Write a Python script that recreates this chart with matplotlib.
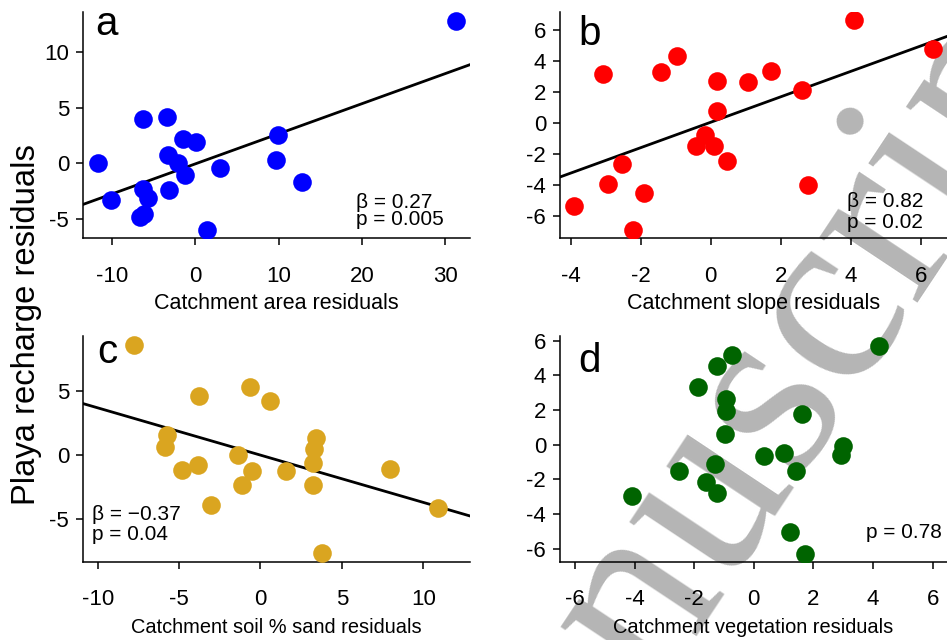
import matplotlib
matplotlib.use("Agg")
import matplotlib.pyplot as plt

plt.rcParams['font.family'] = ['Liberation Sans', 'DejaVu Sans']
plt.rcParams['axes.unicode_minus'] = False

# ---- data ----
a_x = [31.3, -11.75, -10.15, -6.24, -3.36, -1.51, 0.08, -3.24, -2.11, -1.24,
       3.0, 9.89, 9.69, 12.77, -6.24, -5.64, -3.16, -6.64, -6.16, 1.37]
a_y = [12.75, 0.03, -3.25, 4.0, 4.15, 2.2, 1.88, 0.8, 0.03, -1.07,
       -0.39, 2.57, 0.33, -1.67, -2.27, -3.1, -2.42, -4.81, -4.5, -5.94]

b_x = [4.10, 6.36, -3.07, -1.43, -0.97, 0.17, 1.06, 1.71, 2.61, 0.19,
       -0.16, -0.42, 0.08, 0.46, -2.54, -2.94, -1.92, -3.90, -2.23, 2.77]
b_y = [6.62, 4.77, 3.18, 3.31, 4.34, 2.73, 2.62, 3.35, 2.13, 0.77,
       -0.75, -1.46, -1.46, -2.43, -2.67, -3.92, -4.52, -5.38, -6.88, -4.0]

c_x = [-7.78, -3.79, -0.66, 0.57, -5.77, -5.88, -4.85, -3.83, -1.38, -0.55,
       -1.13, -3.05, 1.55, 3.40, 3.29, 3.23, 3.23, 7.94, 10.91, 3.81]
c_y = [8.54, 4.62, 5.32, 4.21, 1.56, 0.62, -1.17, -0.78, 0.0, -1.30,
       -2.39, -3.92, -1.30, 1.27, 0.44, -0.65, -2.39, -1.09, -4.15, -7.73]

d_x = [4.19, -0.74, -1.25, -1.87, -0.94, -0.92, -0.96, 1.61, 0.35, 1.01,
       1.43, 2.98, 2.91, -1.30, -2.51, -1.61, -1.25, -4.07, 1.21, 1.71]
d_y = [5.71, 5.17, 4.52, 3.31, 2.65, 1.96, 0.62, 1.77, -0.63, -0.48,
       -1.5, -0.06, -0.60, -1.12, -1.5, -2.17, -2.81, -2.98, -5.06, -6.31]

panel_letters = ['a', 'b', 'c', 'd']
x_labels = ['Catchment area residuals', 'Catchment slope residuals',
            'Catchment soil % sand residuals', 'Catchment vegetation residuals']
colors = ['#0000ff', '#ff0000', '#daa520', '#006400']
slopes = [0.27, 0.82, -0.37, None]
intercepts = [-0.04, 0.05, -0.04, None]
beta_text = ['β = 0.27', 'β = 0.82', 'β = −0.37', None]
p_text = ['p = 0.005', 'p = 0.02', 'p = 0.04', 'p = 0.78']

xticks = [[-10, 0, 10, 20, 30], [-4, -2, 0, 2, 4, 6], [-10, -5, 0, 5, 10], [-6, -4, -2, 0, 2, 4, 6]]
yticks = [[-5, 0, 5, 10], [-6, -4, -2, 0, 2, 4, 6], [-5, 0, 5], [-6, -4, -2, 0, 2, 4, 6]]
xlims = [(-13.5, 33), (-4.31, 6.75), (-10.9, 12.87), (-6.5, 6.48)]
ylims = [(-6.7, 13.6), (-7.42, 7.16), (-8.38, 9.28), (-6.75, 6.27)]

xs = [a_x, b_x, c_x, d_x]
ys = [a_y, b_y, c_y, d_y]

# ---- layout ----
W, H = 947, 640
fig = plt.figure(figsize=(W / 100, H / 100), dpi=100)

rects = [
    (83 / W, (H - 238) / H, 387 / W, 226 / H),
    (560 / W, (H - 238) / H, 387 / W, 226 / H),
    (83 / W, (H - 561.7) / H, 387 / W, 225.7 / H),
    (560 / W, (H - 561.7) / H, 387 / W, 225.7 / H),
]
letter_pos = [(0.031, 0.898), (0.0465, 0.854), (0.036, 0.880), (0.0465, 0.840)]
beta_pos = [(0.705, 0.133), (0.742, 0.138), (0.023, 0.185), None]
p_pos = [(0.705, 0.0575), (0.742, 0.044), (0.023, 0.096), (0.791, 0.104)]
xlabel_size = [15.5, 15.5, 14.4, 14.4]
xlabel_y = [-0.288, -0.288, -0.293, -0.293]

# watermark (behind the panels)
fig.text(787 / W, 1 - 489 / H, 'Manuscript', fontsize=184, family='Liberation Serif',
         color='#b5b5b5', rotation=56.4, rotation_mode='anchor',
         ha='center', va='baseline', zorder=-5)

for i in range(4):
    ax = fig.add_axes(rects[i])
    ax.set_facecolor('none')
    ax.scatter(xs[i], ys[i], s=180, color=colors[i], linewidths=0, zorder=3)
    if slopes[i] is not None:
        ax.axline((0, intercepts[i]), slope=slopes[i], color='black', lw=2.0, zorder=2)
    ax.set_xlim(*xlims[i])
    ax.set_ylim(*ylims[i])
    ax.set_xticks(xticks[i])
    ax.set_yticks(yticks[i])
    for s in ['top', 'right']:
        ax.spines[s].set_visible(False)
    for s in ['left', 'bottom']:
        ax.spines[s].set_linewidth(1.1)
    ax.tick_params(axis='both', direction='out', length=5, width=1.1, labelsize=16)
    ax.tick_params(axis='x', pad=15)
    ax.tick_params(axis='y', pad=5)
    ax.set_xlabel(x_labels[i], fontsize=xlabel_size[i])
    ax.xaxis.set_label_coords(0.5, xlabel_y[i])
    ax.xaxis.label.set_va('center')
    ax.text(letter_pos[i][0], letter_pos[i][1], panel_letters[i], transform=ax.transAxes,
            fontsize=29, ha='left', va='baseline')
    if beta_text[i] is not None:
        ax.text(beta_pos[i][0], beta_pos[i][1], beta_text[i], transform=ax.transAxes,
                fontsize=15, ha='left', va='baseline')
    ax.text(p_pos[i][0], p_pos[i][1], p_text[i], transform=ax.transAxes,
            fontsize=15, ha='left', va='baseline')

fig.text(27 / W, 1 - 325 / H, 'Playa recharge residuals', rotation=90, fontsize=23.6,
         ha='center', va='center')

fig.savefig('out.png', dpi=100)
